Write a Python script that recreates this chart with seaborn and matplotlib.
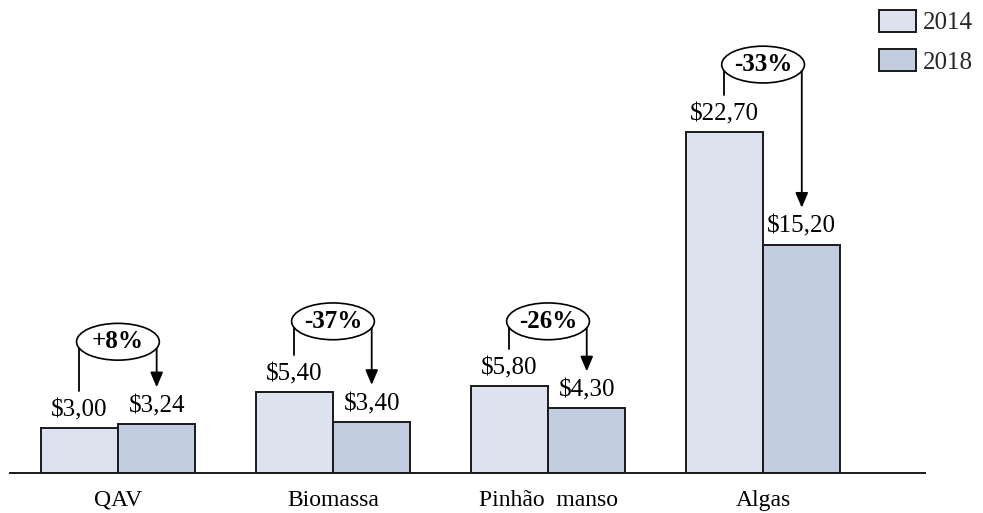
import matplotlib
matplotlib.use("Agg")
import matplotlib.pyplot as plt
from matplotlib.patches import Ellipse
import seaborn as sns
import pandas as pd

# Custo por litro (US$) de cada matéria-prima
categories = ["QAV", "Biomassa", "Pinhão  manso", "Algas"]
years = ["2014", "2018"]
cost_2014 = [3.00, 5.40, 5.80, 22.70]
cost_2018 = [3.24, 3.40, 4.30, 15.20]

df = pd.DataFrame({
    "categoria": categories * 2,
    "ano": [years[0]] * len(categories) + [years[1]] * len(categories),
    "custo": cost_2014 + cost_2018,
})

sns.set_theme(style="white")
plt.rcParams["font.family"] = ["Liberation Serif", "DejaVu Serif"]

palette = {"2014": "#dde3ee", "2018": "#c3cde0"}

fig = plt.figure(figsize=(9.83, 5.13), dpi=100)
ax = fig.add_axes([10 / 983, 40 / 513, 915 / 983, 473 / 513])

sns.barplot(data=df, x="categoria", y="custo", hue="ano", order=categories,
            hue_order=years, palette=palette, width=0.72, gap=0,
            edgecolor="#1a1a1a", linewidth=1.4, saturation=1, ax=ax,
            legend=True)

ax.set_xlim(-0.502, 3.753)
ax.set_ylim(0, 31.5)
ax.set_xlabel("")
ax.set_ylabel("")
ax.set_yticks([])
for side in ["left", "right", "top"]:
    ax.spines[side].set_visible(False)
ax.spines["bottom"].set_color("#1a1a1a")
ax.spines["bottom"].set_linewidth(1.4)
ax.tick_params(axis="x", length=0, pad=12, labelsize=17, colors="black")

half = 0.18


def money(v):
    return "$" + f"{v:.2f}".replace(".", ",")


# rótulos de valor sobre as barras
for i, (a, b) in enumerate(zip(cost_2014, cost_2018)):
    for x, v in ((i - half, a), (i + half, b)):
        ax.annotate(money(v), xy=(x, v), xytext=(0, 5), textcoords="offset points",
                    ha="center", va="bottom", fontsize=18, color="black")

# colchetes com a variação percentual
rise = [5.5, 4.7, 4.3, 4.5]
for i, (a, b) in enumerate(zip(cost_2014, cost_2018)):
    xl, xr = i - half, i + half
    ye = max(a, b) + rise[i]
    ax.plot([xl, xl], [a + 2.45, ye], color="black", lw=1.3, zorder=3)
    ax.annotate("", xy=(xr, b + 2.47), xytext=(xr, ye),
                arrowprops=dict(arrowstyle="-|>,head_length=0.75,head_width=0.32",
                                color="black", lw=1.3, shrinkA=0, shrinkB=0),
                zorder=3)
    ax.add_patch(Ellipse((i, ye), width=0.385, height=2.45, facecolor="white",
                         edgecolor="black", lw=1.2, zorder=4))
    pct = (b - a) / a * 100
    ax.text(i, ye, f"{pct:+.0f}%", ha="center", va="center", fontsize=18,
            fontweight="bold", color="black", zorder=5)

leg = ax.legend(loc="upper right", bbox_to_anchor=(1.0, 1.0),
                bbox_transform=fig.transFigure, frameon=False, fontsize=18,
                handlelength=1.45, handleheight=0.95, handletextpad=0.3,
                labelspacing=0.6, borderaxespad=0.0, borderpad=0.4, title=None)
for h in leg.legend_handles:
    h.set_edgecolor("#1a1a1a")
    h.set_linewidth(1.4)

fig.savefig("out.png", dpi=100)
